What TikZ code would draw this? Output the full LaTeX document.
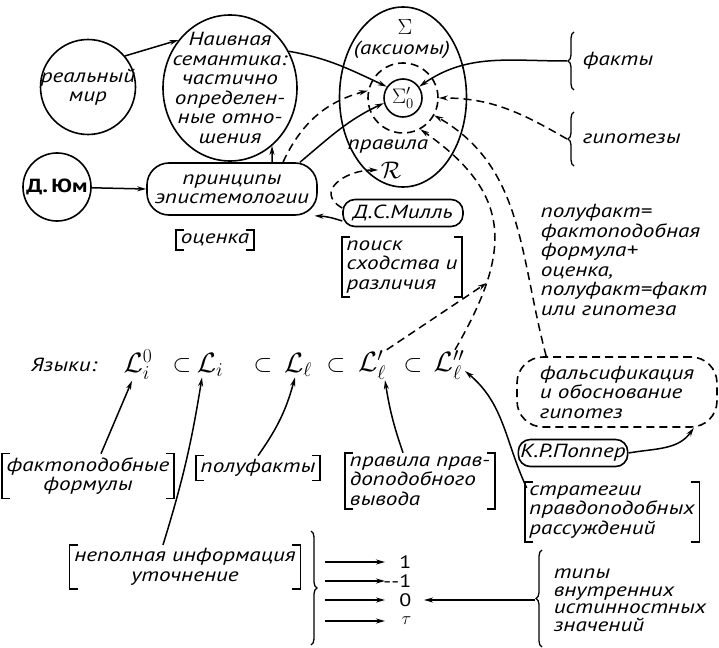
\RequirePackage{fix-cm}
\documentclass[tikz,border=0pt]{standalone}
\usepackage{amsmath,amssymb}
\usepackage{fontspec}
\newfontfamily\hand{PT Sans}[FakeStretch=1.22]
\usetikzlibrary{arrows.meta,calc,positioning,shapes.geometric,decorations.pathreplacing}

\tikzset{
  txt/.style={font=\hand\itshape\fontsize{19}{19.5}\selectfont,align=center,inner sep=2pt},
  bubble/.style={draw,circle,line width=1.6pt},
  pill/.style={draw,rectangle,rounded corners=12pt,line width=1.6pt,inner sep=2pt},
  brk/.style={txt,align=left,inner xsep=4pt,inner ysep=3pt,
    append after command={\pgfextra{\draw[line width=1.6pt]
      ([xshift=8pt]\tikzlastnode.north west) -| (\tikzlastnode.south west) -- ++(8pt,0)
      ([xshift=-8pt]\tikzlastnode.north east) -| (\tikzlastnode.south east) -- ++(-8pt,0);}}},
  lang/.style={font=\fontsize{28}{28}\selectfont,inner sep=0pt},
  incl/.style={font=\fontsize{24}{24}\selectfont,inner sep=0pt},
  val/.style={font=\hand\fontsize{18}{18}\selectfont,inner sep=0pt,anchor=east},
  dashline/.style={dash pattern=on 8pt off 5pt},
  brc/.style={decorate,decoration={brace,amplitude=6pt},line width=1.3pt}
}

\begin{document}
\begin{tikzpicture}[x=1pt,y=1pt,>={Stealth[length=9pt,width=5pt]},line width=1.5pt,every node/.style={txt}]
	\useasboundingbox (0,0) rectangle (719,-647);
	% top: world, semantics, axioms
	\node[bubble,minimum size=95pt] (real) at (88,-87) {};
	\node (realtxt) at (real) {реальный\\мир};
	\node[draw,ellipse,line width=1.6pt,minimum width=134pt,minimum height=146pt] (naive) at (230,-88) {};
	\node (naivetxt) at (naive) {Наивная\\семантика:\\частично\\определен-\\ные отно-\\шения};
	\node[draw,ellipse,line width=1.6pt,minimum width=127pt,minimum height=180pt] (sigma) at (403,-97) {};
	\node[font=\fontsize{22}{22}\selectfont] (sigtop) at (405,-27) {$\Sigma$};
	\node (axioms) at (402,-50) {(аксиомы)};
	\node[bubble,dashline,minimum size=70pt] (s0dash) at (403,-98) {};
	\node[bubble,minimum size=38pt,inner sep=0pt,font=\fontsize{21}{21}\selectfont] (s0) at (403,-98) {$\Sigma_0'$};
	\node (rules) at (388,-147) {правила};
	\node[font=\fontsize{24}{24}\selectfont] (rr) at (391,-170) {$\mathcal{R}$};
	\node[bubble,minimum size=62pt,font=\hand\bfseries\fontsize{19}{19.5}\selectfont] (hume) at (57,-187) {Д.\,Юм};
	\node[pill,rounded corners=22pt,minimum width=170pt,minimum height=52pt] (princ) at (232,-189) {принципы\\эпистемологии};
	\node[brk] (otsenka) at (215,-240) {оценка};
	\node[pill,minimum width=120pt,minimum height=27pt] (mill) at (403,-213) {Д.С.Милль};
	\node[brk] (poisk) at (402,-267) {поиск\\сходства и\\различия};
	\node[anchor=west] (fakty) at (580,-61) {факты};
	\node[anchor=west] (gipot) at (580,-139) {гипотезы};
	\coordinate (faktytip) at ([xshift=-13pt]fakty.west);
	\coordinate (gipottip) at ([xshift=-13pt]gipot.west);
	\node[anchor=west,align=left] (note) at (538,-260) {полуфакт=\\фактоподобная\\формула+\\оценка,\\полуфакт=факт\\или гипотеза};
	\node[pill,dashline,rounded corners=26pt,minimum width=200pt,minimum height=70pt,align=left] (falsif) at (617,-392) {фальсификация\\и обоснование\\гипотез};
	\node[pill,minimum width=82pt,minimum height=27pt] (popper) at (573,-453) {К.Р.Поппер};
	% languages
	\node (yazyki) at (64,-365) {Языки:};
	\node[lang] (L0) at (138,-365) {$\mathcal{L}_i^0$};
	\node[incl] (sub1) at (182,-365) {$\subset$};
	\node[lang] (L1) at (210,-365) {$\mathcal{L}_i$};
	\node[incl] (sub2) at (263,-365) {$\subset$};
	\node[lang] (Ll) at (298,-365) {$\mathcal{L}_\ell$};
	\node[incl] (sub3) at (336,-365) {$\subset$};
	\node[lang] (Lp) at (372,-365) {$\mathcal{L}_\ell'$};
	\node[incl] (sub4) at (413,-365) {$\subset$};
	\node[lang] (Lpp) at (449,-365) {$\mathcal{L}_\ell''$};
	\node[brk,align=center] (fakt) at (88,-476) {фактоподобные\\формулы};
	\node[brk] (polu) at (258,-468) {полуфакты};
	\node[brk] (prav) at (420,-481) {правила прав-\\доподобного\\вывода};
	\node[brk] (strat) at (612,-512) {стратегии\\правдоподобных\\рассуждений};
	\node[brk,align=center] (nepol) at (185,-567) {неполная информация\\уточнение};
	% truth values
	\node[val] (v1) at (412,-562) {1};
	\node[val] (v2) at (412,-581) {--1};
	\node[val] (v3) at (412,-600) {0};
	\node[val,font=\fontsize{18}{18}\selectfont] (v4) at (412,-621) {$\tau$};
	\coordinate (a1) at (325,-562);
	\coordinate (a2) at (325,-581);
	\coordinate (a3) at (325,-600);
	\coordinate (a4) at (325,-621);
	\coordinate (e1) at (385,-562);
	\coordinate (e2) at (385,-581);
	\coordinate (e3) at (385,-600);
	\coordinate (e4) at (385,-621);
	\coordinate (nb1) at (311,-531);
	\coordinate (nb2) at (311,-645);
	\node[anchor=west,align=left,font=\hand\itshape\fontsize{19}{17.5}\selectfont] (typy) at (551,-600) {типы\\внутренних\\истинностных\\значений};
	\coordinate (typytip) at ([xshift=-16pt]typy.west);
	% braces
	\draw[brc] ([xshift=-6pt,yshift=-29pt]fakty.west) -- ([xshift=-6pt,yshift=29pt]fakty.west);
	\draw[brc] ([xshift=-6pt,yshift=-27pt]gipot.west) -- ([xshift=-6pt,yshift=27pt]gipot.west);
	\draw[brc] (nb1) -- (nb2);
	\draw[brc] ([xshift=-9pt,yshift=-47pt]typy.west) -- ([xshift=-9pt,yshift=50pt]typy.west);
	% connectors
	\draw[->] (real.40) -- (naive.137);
	\draw[->] (hume) -- (princ.west);
	\draw[->] ([xshift=40pt]princ.north) -- (naive.-54);
	\draw[->,dashline] ([xshift=51pt]princ.north) to[out=65,in=195] (s0dash.168);
	\draw[->] ([xshift=68pt]princ.north) to[out=40,in=205] (s0.195);
	\draw[->] (naive.32) to[out=-10,in=155] (s0.145);
	\draw[->] (faktytip) to[out=180,in=35] (s0.35);
	\draw[->,dashline] (gipottip) to[out=150,in=0] (s0dash.0);
	\draw[->,dashline] ([yshift=5pt]mill.west) to[out=150,in=180,looseness=1.6] (rr.west);
	\draw[->] ([yshift=-8pt]mill.west) to[bend right=8] (princ.-18);
	\draw[->,dashline] ([xshift=6pt]Lpp.north) to[out=60,in=-35,looseness=1.3] coordinate[pos=0.25] (merge) (s0dash.-61);
	\draw[->,dashline] (Lp.north east) -- (merge);
	\draw[->,dashline] ([xshift=30pt]falsif.north west) to[out=105,in=-30] (s0dash.-29);
	\draw[->] (popper.east) to[out=10,in=-125] ([xshift=-24pt]falsif.south east);
	\draw[->] ([xshift=2pt,yshift=-6pt]strat.north west) to[out=115,in=-40] ([yshift=-6pt]Lpp.east);
	\draw[->] ([xshift=13pt]fakt.north) -- ([xshift=-6pt]L0.south);
	\draw[->] ([xshift=-22pt]nepol.north) to[bend right=4] ([xshift=-8pt]L1.south);
	\draw[->] (polu.north) to[bend right=10] ([xshift=-3pt]Ll.south);
	\draw[->] ([xshift=-17pt]prav.north) to[bend left=5] ([xshift=13pt]Lp.south);
	\draw[->] (a1) -- (e1);
	\draw[->] (a2) -- (e2);
	\draw[->] (a3) -- (e3);
	\draw[->] (a4) -- (e4);
	\draw[->] (typytip) -- ([xshift=12pt]v3.east);
\end{tikzpicture}
\end{document}
